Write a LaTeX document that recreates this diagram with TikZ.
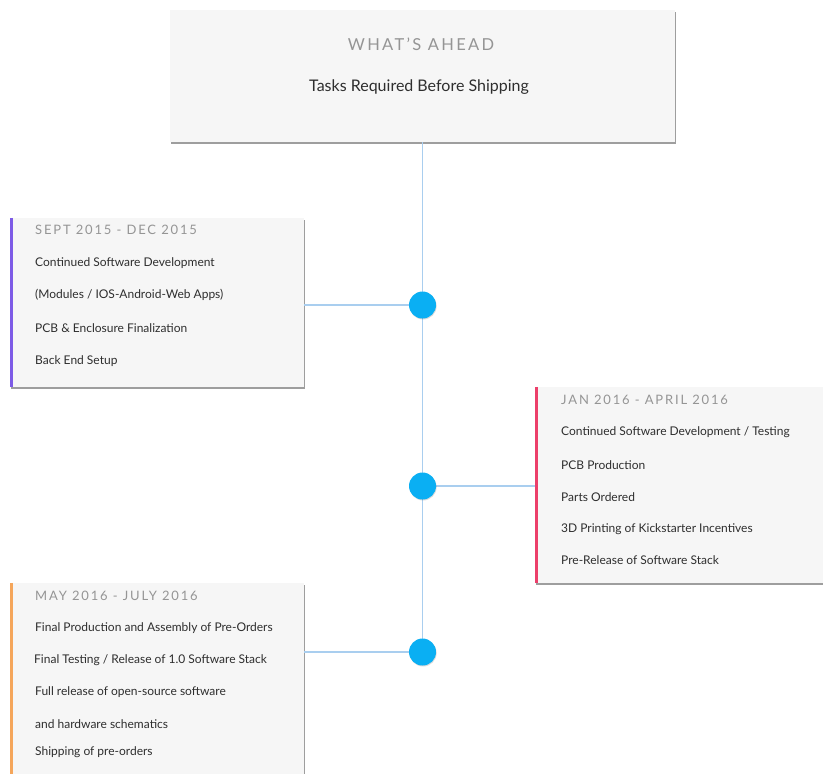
\documentclass[tikz,border=0pt]{standalone}
\usepackage{fontspec}
\setmainfont{Lato}
\newfontfamily\spacedfont[LetterSpace=14]{Lato}
\usetikzlibrary{shadows}
\definecolor{boxfill}{HTML}{F6F6F6}
\definecolor{dotblue}{HTML}{0AAFF3}
\definecolor{lineblue}{HTML}{A9CEEF}
\definecolor{titlegray}{HTML}{959595}
\definecolor{bodytext}{HTML}{2E2E2E}
\definecolor{purplebar}{HTML}{7D5BE6}
\definecolor{pinkbar}{HTML}{EC3F6A}
\definecolor{orangebar}{HTML}{F5A65B}
\tikzset{
  card/.style={rectangle, fill=boxfill, inner sep=0pt,
    drop shadow={shadow xshift=1.4pt, shadow yshift=-2pt, fill=black, opacity=0.38}},
  dot/.style={circle, fill=dotblue, minimum size=27pt, inner sep=0pt,
    drop shadow={shadow xshift=0.6pt, shadow yshift=-1pt, fill=black, opacity=0.15}},
  tl/.style={draw=lineblue, line width=1.3pt},
  period/.style={anchor=west, inner sep=0pt, text=titlegray, font=\spacedfont\fontsize{13}{15}\selectfont},
  item/.style={anchor=west, inner sep=0pt, text=bodytext, font=\fontsize{12}{14}\selectfont},
}
\begin{document}
\begin{tikzpicture}[x=1pt,y=-1pt]
\useasboundingbox (0,0) rectangle (823,774);
\clip (0,0) rectangle (823,774);

% top box
\node[card, minimum width=505pt, minimum height=132pt] (top) at (422.5,76) {};
\node[inner sep=0pt, text=titlegray, font=\spacedfont\fontsize{16.5}{18}\selectfont] (ahead) at (421,44) {WHAT’S AHEAD};
\node[inner sep=0pt, text=bodytext, font=\fontsize{16}{18}\selectfont] (tasks) at (419,87) {Tasks Required Before Shipping};

% circles (positions)
\coordinate (p1) at (422.5,305);
\coordinate (p2) at (422.5,486);
\coordinate (p3) at (422.5,652);

% cards
\node[card, minimum width=294pt, minimum height=169pt] (b1) at (157,302.5) {};
\node[card, minimum width=295pt, minimum height=196pt] (b2) at (682.5,485) {};
\node[card, minimum width=294pt, minimum height=207pt] (b3) at (157,686.5) {};

% colored left bars
\draw[purplebar, line width=3pt] ([xshift=1.5pt]b1.north west) -- ([xshift=1.5pt]b1.south west);
\draw[pinkbar, line width=3pt] ([xshift=1.5pt]b2.north west) -- ([xshift=1.5pt]b2.south west);
\draw[orangebar, line width=3pt] ([xshift=1.5pt]b3.north west) -- ([xshift=1.5pt]b3.south west);

% timeline
\draw[tl] (top.south) -- (p3);
\draw[tl] (p1) -- (p1 -| b1.east);
\draw[tl] (p2) -- (p2 -| b2.west);
\draw[tl] (p3) -- (p3 -| b3.east);

\node[dot] (c1) at (p1) {};
\node[dot] (c2) at (p2) {};
\node[dot] (c3) at (p3) {};

% card 1 text
\node[period] (t1) at (35,230) {SEPT 2015 - DEC 2015};
\node[item] (t1a) at (35,263) {Continued Software Development};
\node[item] (t1b) at (35,295) {(Modules / IOS-Android-Web Apps)};
\node[item] (t1c) at (35,328) {PCB \& Enclosure Finalization};
\node[item] (t1d) at (35,361) {Back End Setup};

% card 2 text
\node[period] (t2) at (561,400) {JAN 2016 - APRIL 2016};
\node[item] (t2a) at (561,432) {Continued Software Development / Testing};
\node[item] (t2b) at (561,465) {PCB Production};
\node[item] (t2c) at (561,497) {Parts Ordered};
\node[item] (t2d) at (561,529) {3D Printing of Kickstarter Incentives};
\node[item] (t2e) at (561,560) {Pre-Release of Software Stack};

% card 3 text
\node[period] (t3) at (35,596) {MAY 2016 - JULY 2016};
\node[item] (t3a) at (35,628) {Final Production and Assembly of Pre-Orders};
\node[item] (t3b) at (34,660) {Final Testing / Release of 1.0 Software Stack};
\node[item] (t3c) at (35,692) {Full release of open-source software};
\node[item] (t3d) at (35,724) {and hardware schematics};
\node[item] (t3e) at (35,752) {Shipping of pre-orders};
\end{tikzpicture}
\end{document}
